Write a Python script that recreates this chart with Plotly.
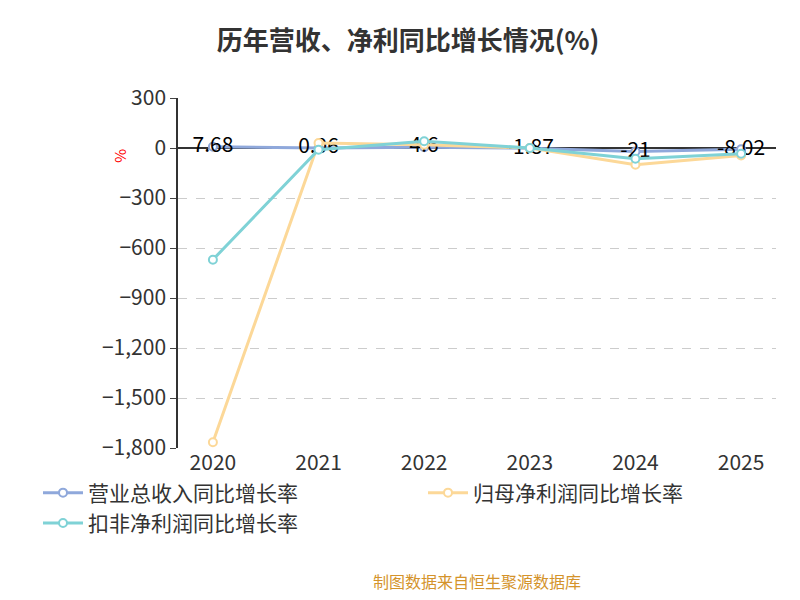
import plotly.graph_objects as go

years = ["2020", "2021", "2022", "2023", "2024", "2025"]
revenue = [7.68, 0.06, 4.6, -1.87, -21, -8.02]
profit = [-1765, 30, 20, 0, -100, -45]
deducted = [-670, -10, 40, 0, -65, -35]
rev_labels = ["7.68", "0.06", "4.6", "-1.87", "-21", "-8.02"]

fig = go.Figure()
def add(name, y, color, text=None):
    fig.add_trace(go.Scatter(
        x=years, y=y, name=name, mode="lines+markers+text" if text else "lines+markers",
        text=text, textposition="middle center", textfont=dict(size=21, color="black"),
        line=dict(color=color, width=3),
        marker=dict(size=8, color="white", line=dict(color=color, width=2)),
    ))
add("归母净利润同比增长率", profit, "#fcd898")
add("扣非净利润同比增长率", deducted, "#7fd2d6")
add("营业总收入同比增长率", revenue, "#8fa8db", rev_labels)
fig.data = (fig.data[2], fig.data[0], fig.data[1])

fig.update_layout(
    width=800, height=600, plot_bgcolor="white", paper_bgcolor="white",
    font=dict(family="Noto Sans CJK SC", color="#333"),
    title=dict(text="<b>历年营收、净利同比增长情况(%)</b>", x=0.5, y=0.96, xanchor="center",
               font=dict(size=26, color="#333")),
    margin=dict(l=170, r=32, t=90, b=160),
    showlegend=True,
    legend=dict(orientation="h", x=-0.15, y=-0.07, xanchor="left", yanchor="top",
                font=dict(size=21, color="#333"), itemwidth=40,
                entrywidth=330, entrywidthmode="pixels", tracegroupgap=5),
    xaxis=dict(showgrid=False, showline=False, ticks="", tickfont=dict(size=21, color="#333")),
    yaxis=dict(range=[-1800, 300], tickvals=[300, 0, -300, -600, -900, -1200, -1500, -1800],
               tickformat=",", showgrid=True, gridcolor="#ccc", griddash="dash",
               showline=True, linecolor="#333", linewidth=1.5, ticks="outside", ticklen=6,
               zeroline=True, zerolinecolor="#333", zerolinewidth=1.5,
               tickfont=dict(size=21, color="#333")),
    annotations=[
        dict(text="%", x=-0.12, y=0.86, xref="paper", yref="paper", showarrow=False,
             font=dict(color="red", size=15), textangle=-90),
        dict(text="制图数据来自恒生聚源数据库", x=0.5, y=-0.42, xref="paper", yref="paper",
             xanchor="center", showarrow=False, font=dict(color="#d4932b", size=16)),
    ],
)
fig.write_html("out.html")
